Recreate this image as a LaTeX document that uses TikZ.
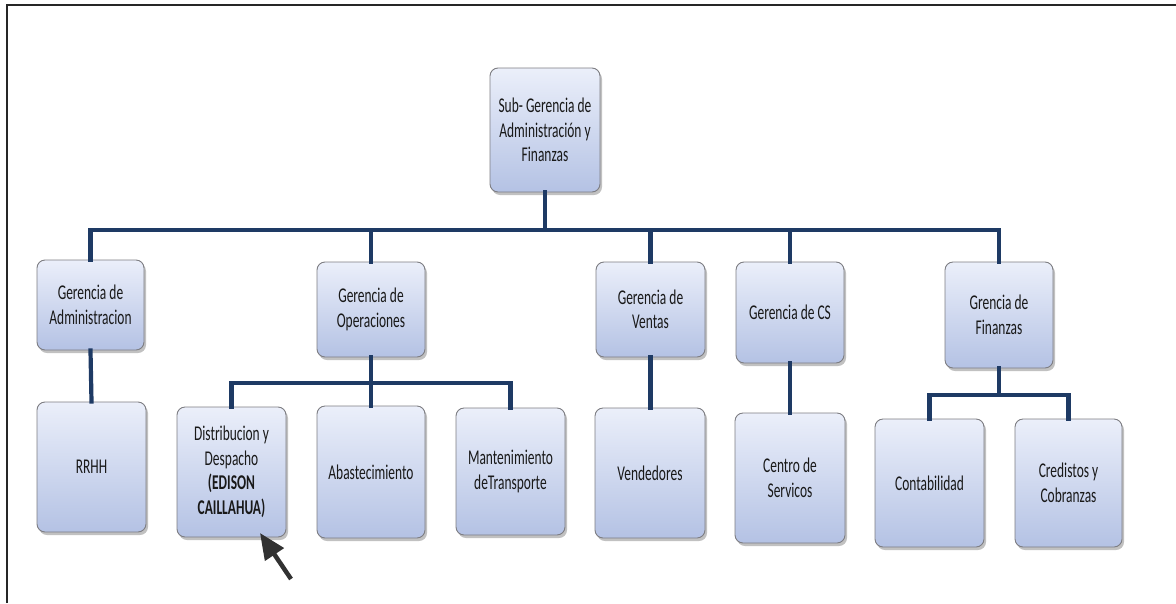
\documentclass[tikz,border=0pt]{standalone}
\usepackage{fontspec}
\setmainfont[FakeStretch=0.64]{Carlito}
\usetikzlibrary{shadows,arrows.meta}
\definecolor{boxtop}{RGB}{235,239,250}
\definecolor{boxbot}{RGB}{180,194,228}
\definecolor{boxline}{RGB}{125,125,130}
\definecolor{navy}{RGB}{30,58,100}
\definecolor{txt}{RGB}{25,25,25}
\definecolor{arrowgray}{RGB}{50,50,50}
\tikzset{
  orgbox/.style={rectangle, rounded corners=8pt, draw=boxline, line width=0.9pt,
    top color=boxtop, bottom color=boxbot, align=center, text=txt,
    font=\fontsize{21}{24.5}\selectfont, inner sep=2pt,
    drop shadow={shadow xshift=2pt, shadow yshift=-3pt, opacity=0.35, fill=black!70}},
  conn/.style={draw=navy, line width=4.2pt, line cap=rect},
  frameline/.style={draw=black!85, line width=1.4pt},
  pointer/.style={draw=arrowgray, line width=4.5pt, -{Triangle[length=26pt,width=22pt]}}
}
\begin{document}
\begin{tikzpicture}[x=1pt,y=-1pt]
\useasboundingbox (0,0) rectangle (1176,603);
\draw[frameline] (7,603) -- (7,5) -- (1176,5);

\node[orgbox, minimum width=110pt, minimum height=124pt] (top) at (545,130) {Sub- Gerencia de\\Administración y\\Finanzas};

\node[orgbox, minimum width=107pt, minimum height=90pt] (adm) at (90.5,305) {Gerencia de\\Administracion};
\node[orgbox, minimum width=108pt, minimum height=95pt] (ops) at (371,309.5) {Gerencia de\\Operaciones};
\node[orgbox, minimum width=109pt, minimum height=95pt] (ven) at (650.5,309.5) {Gerencia de\\Ventas};
\node[orgbox, minimum width=108pt, minimum height=101pt] (cs) at (790,312.5) {Gerencia de CS};
\node[orgbox, minimum width=108pt, minimum height=106pt] (fin) at (999,315) {Grencia de\\Finanzas};

\node[orgbox, minimum width=109pt, minimum height=130pt] (rrhh) at (91.5,467) {RRHH};
\node[orgbox, minimum width=109pt, minimum height=130pt] (dist) at (231.5,472) {Distribucion y\\Despacho\\\textbf{(EDISON}\\\textbf{CAILLAHUA)}};
\node[orgbox, minimum width=108pt, minimum height=132pt] (aba) at (371,472) {Abastecimiento};
\node[orgbox, minimum width=109pt, minimum height=127pt] (man) at (510.5,471.5) {Mantenimiento\\deTransporte};
\node[orgbox, minimum width=110pt, minimum height=130pt] (vend) at (650,473) {Vendedores};
\node[orgbox, minimum width=110pt, minimum height=130pt] (cen) at (790,478) {Centro de\\Servicos};
\node[orgbox, minimum width=109pt, minimum height=128pt] (cont) at (929.5,483) {Contabilidad};
\node[orgbox, minimum width=107pt, minimum height=128pt] (cred) at (1068.5,483) {Credistos y\\Cobranzas};

% main bus
\draw[conn] (top.south) -- (top.south |- 0,230);
\draw[conn] (adm.north) -- (adm.north |- 0,230) -- (fin.north |- 0,230) -- (fin.north);
\draw[conn] (ops.north) -- (ops.north |- 0,230);
\draw[conn] (ven.north) -- (ven.north |- 0,230);
\draw[conn] (cs.north) -- (cs.north |- 0,230);

% administracion
\draw[conn] (adm.south) -- (rrhh.north);
% operaciones bus
\draw[conn] (ops.south) -- (ops.south |- 0,383);
\draw[conn] (dist.north) -- (dist.north |- 0,383) -- (man.north |- 0,383) -- (man.north);
\draw[conn] (aba.north) -- (aba.north |- 0,383);
% ventas, cs
\draw[conn] (ven.south) -- (ven.south |- vend.north);
\draw[conn] (cs.south) -- (cen.north);
% finanzas bus
\draw[conn] (fin.south) -- (fin.south |- 0,395);
\draw[conn] (cont.north) -- (cont.north |- 0,395) -- (cred.north |- 0,395) -- (cred.north);

% pointer arrow
\coordinate (ptail) at (291,579);
\coordinate (ptip) at (260,533);
\draw[pointer] (ptail) -- (ptip);
\end{tikzpicture}
\end{document}
